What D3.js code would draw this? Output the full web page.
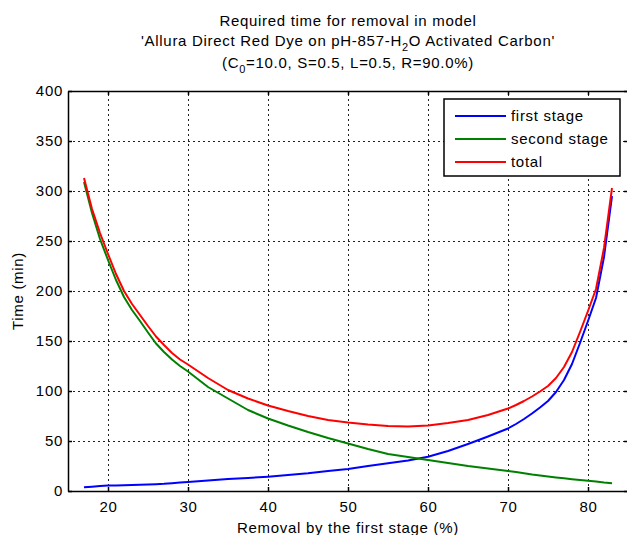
<!DOCTYPE html>
<html>
<head>
<meta charset="utf-8">
<script src="https://cdn.jsdelivr.net/npm/d3@7"></script>
<style>
  body { margin: 0; background: #fff; }
  svg { display: block; font-family: "Liberation Sans", Arial, sans-serif; letter-spacing: 0.7px; }
  .grid line { stroke: #222; stroke-dasharray: 2,3; stroke-width: 1; }
  .grid path { display: none; }
  .axis path, .axis line { stroke: #000; stroke-width: 1.5; }
  .axis text { font-size: 15px; fill: #000; }
</style>
</head>
<body>
<svg id="chart"></svg>
<script>
const width = 627;
const height = 535;

// removal by the first stage (%)
const removal = [17, 18, 19, 20, 21, 22, 23, 24, 25, 26, 27, 28, 29, 30,
    32.5, 35, 37.5, 40, 42.5, 45, 47.5, 50, 52.5, 55, 57.5, 60, 62.5, 65,
    67.5, 70, 71, 72, 73, 74, 75, 76, 77, 78, 79, 80, 81, 82, 83];

const firstStage = [3.7, 4.3, 5, 5.5, 5.6, 5.8, 6, 6.2, 6.5, 6.8, 7.2, 7.8, 8.4, 9,
    10.5, 12, 13, 14.3, 16, 17.7, 20, 22, 25, 27.7, 30.5, 34.3, 40, 47,
    54.5, 62.5, 67, 72, 77.5, 83.5, 90, 99, 111, 127, 148, 170, 193, 234, 295];

const secondStage = [309, 278, 252, 231, 211, 194, 181, 170, 158.5, 147.5, 139, 131.5, 125, 119.5,
    104, 92.5, 81, 72.5, 65.5, 59, 53, 47.5, 42, 37, 34, 31, 28, 25,
    22.5, 20, 19, 17.7, 16.5, 15.5, 14.5, 13.6, 12.7, 11.8, 11, 10.3, 9.5, 8.5, 7.7];

const total = [313, 282, 258, 237, 217, 200, 187, 176, 165, 154.5, 146, 138, 131.5, 126.5,
    113, 101, 92.5, 85.5, 80, 75, 71, 68.5, 66.5, 65, 64.5, 65.5, 68, 71,
    76, 82.5, 86, 90, 94.5, 99.5, 105, 113, 124, 139, 159, 180, 202, 243, 303];

const xTicks = [20, 30, 40, 50, 60, 70, 80];
const yTicks = [0, 50, 100, 150, 200, 250, 300, 350, 400];

const seriesNames = ["first stage", "second stage", "total"];
const seriesColors = ["#0000ff", "#008000", "#ff0000"];
const seriesValues = [firstStage, secondStage, total];

const margin = { left: 68, top: 91, right: -1, bottom: 44 };
const plotW = width - margin.left - margin.right;
const plotH = height - margin.top - margin.bottom;

const svg = d3.select("#chart")
    .attr("width", width)
    .attr("height", height);

const x = d3.scaleLinear().domain([15, 85]).range([margin.left, margin.left + plotW]);
const y = d3.scaleLinear().domain([0, 400]).range([margin.top + plotH, margin.top]);

// grid
svg.append("g")
    .attr("class", "grid")
    .attr("transform", `translate(0,${margin.top + plotH})`)
    .call(d3.axisBottom(x).tickValues(xTicks).tickSize(-plotH).tickFormat(""));

svg.append("g")
    .attr("class", "grid")
    .attr("transform", `translate(${margin.left},0)`)
    .call(d3.axisLeft(y).tickValues(yTicks).tickSize(-plotW).tickFormat(""));

// curves
const line = d3.line()
    .x((d, i) => x(removal[i]))
    .y(d => y(d));

seriesValues.forEach((vals, k) => {
    svg.append("path")
        .datum(vals)
        .attr("fill", "none")
        .attr("stroke", seriesColors[k])
        .attr("stroke-width", 2)
        .attr("stroke-linejoin", "round")
        .attr("d", line);
});

// axes (ticks point inward)
svg.append("g")
    .attr("class", "axis")
    .attr("transform", `translate(0,${margin.top + plotH})`)
    .call(d3.axisBottom(x).tickValues(xTicks).tickSizeInner(-4).tickSizeOuter(0).tickPadding(10));

svg.append("g")
    .attr("class", "axis")
    .attr("transform", `translate(${margin.left},0)`)
    .call(d3.axisLeft(y).tickValues(yTicks).tickSizeInner(-4).tickSizeOuter(0).tickPadding(5));

svg.append("g")
    .attr("class", "axis")
    .attr("transform", `translate(0,${margin.top})`)
    .call(d3.axisTop(x).tickValues(xTicks).tickSizeInner(-4).tickSizeOuter(0).tickFormat(""));

svg.append("g")
    .attr("class", "axis")
    .attr("transform", `translate(${margin.left + plotW},0)`)
    .call(d3.axisRight(y).tickValues(yTicks).tickSizeInner(-4).tickSizeOuter(0).tickFormat(""));

// titles
const title = svg.append("g")
    .attr("text-anchor", "middle")
    .attr("font-size", 15)
    .attr("fill", "#000");

const cx = 348;
title.append("text").attr("x", cx).attr("y", 26).text("Required time for removal in model");

const t2 = title.append("text").attr("x", cx).attr("y", 45.5);
t2.append("tspan").text("'Allura Direct Red Dye on pH-857-H");
t2.append("tspan").attr("dy", 5).attr("font-size", 11).text("2");
t2.append("tspan").attr("dy", -5).text("O Activated Carbon'");

const t3 = title.append("text").attr("x", cx).attr("y", 68);
t3.append("tspan").text("(C");
t3.append("tspan").attr("dy", 5).attr("font-size", 11).text("0");
t3.append("tspan").attr("dy", -5).text("=10.0, S=0.5, L=0.5, R=90.0%)");

svg.append("text")
    .attr("x", cx)
    .attr("y", 533)
    .attr("text-anchor", "middle")
    .attr("font-size", 15)
    .text("Removal by the first stage (%)");

svg.append("text")
    .attr("transform", `translate(23,${margin.top + plotH / 2}) rotate(-90)`)
    .attr("text-anchor", "middle")
    .attr("font-size", 15)
    .text("Time (min)");

// legend
const legend = svg.append("g").attr("transform", "translate(444,99)");
legend.append("rect")
    .attr("width", 176)
    .attr("height", 77)
    .attr("fill", "#fff")
    .attr("stroke", "#000")
    .attr("stroke-width", 1.5);

seriesNames.forEach((name, k) => {
    const row = legend.append("g").attr("transform", `translate(0,${17 + k * 23})`);
    row.append("line")
        .attr("x1", 11).attr("x2", 62)
        .attr("stroke", seriesColors[k])
        .attr("stroke-width", 2);
    row.append("text")
        .attr("x", 67)
        .attr("dy", "0.35em")
        .attr("font-size", 15)
        .text(name);
});
</script>
</body>
</html>
